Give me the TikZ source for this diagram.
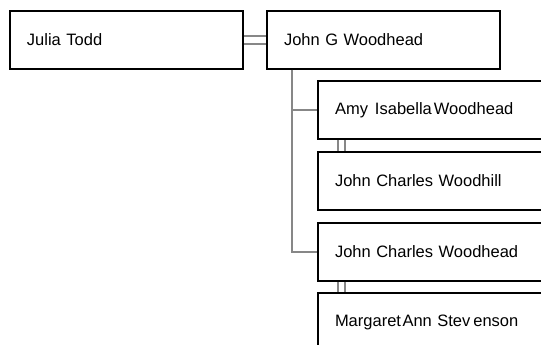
\documentclass[tikz,border=0pt]{standalone}
\usepackage{fontspec}
\setmainfont{Liberation Sans}
\tikzset{
  person/.style={draw=black, line width=2pt, fill=white, anchor=north west,
    minimum height=58pt, inner xsep=17pt, inner ysep=0pt, align=left,
    font=\fontsize{16.5}{20}\selectfont},
  topbox/.style={person, minimum width=233pt, text width=199pt},
  childbox/.style={person, minimum width=240pt, text width=206pt},
  conn/.style={draw=black!47, line width=1.9pt}
}
\begin{document}
\begin{tikzpicture}[x=1pt,y=-1pt]
\useasboundingbox (0,0) rectangle (541,345);
\clip (0,0) rectangle (541,345);
\fill[white] (0,0) rectangle (541,345);
\node[topbox] (julia) at (9,10) {Julia Todd};
\node[topbox] (john) at (266,10) {John G Woodhead};
\node[childbox] (amy) at (317,80) {Amy\hspace{7pt}Isabella\hspace{2pt}Woodhead};
\node[childbox] (woodhill) at (317,151) {John Charles Woodhill};
\node[childbox] (jcwh) at (317,222) {John Charles Woodhead};
\node[childbox] (margaret) at (317,292) {Margaret\hspace{1.5pt}Ann Stev\hspace{3pt}enson};
\draw[conn] ([yshift=4pt]julia.east) -- ([yshift=4pt]john.west);
\draw[conn] ([yshift=-4pt]julia.east) -- ([yshift=-4pt]john.west);
\draw[conn] ([xshift=26pt]john.south west) |- (amy.west);
\draw[conn] ([xshift=26pt]john.south west) |- (jcwh.west);
\draw[conn] ([xshift=21pt]amy.south west) -- ([xshift=21pt]woodhill.north west);
\draw[conn] ([xshift=28pt]amy.south west) -- ([xshift=28pt]woodhill.north west);
\draw[conn] ([xshift=21pt]jcwh.south west) -- ([xshift=21pt]margaret.north west);
\draw[conn] ([xshift=28pt]jcwh.south west) -- ([xshift=28pt]margaret.north west);
\end{tikzpicture}
\end{document}
